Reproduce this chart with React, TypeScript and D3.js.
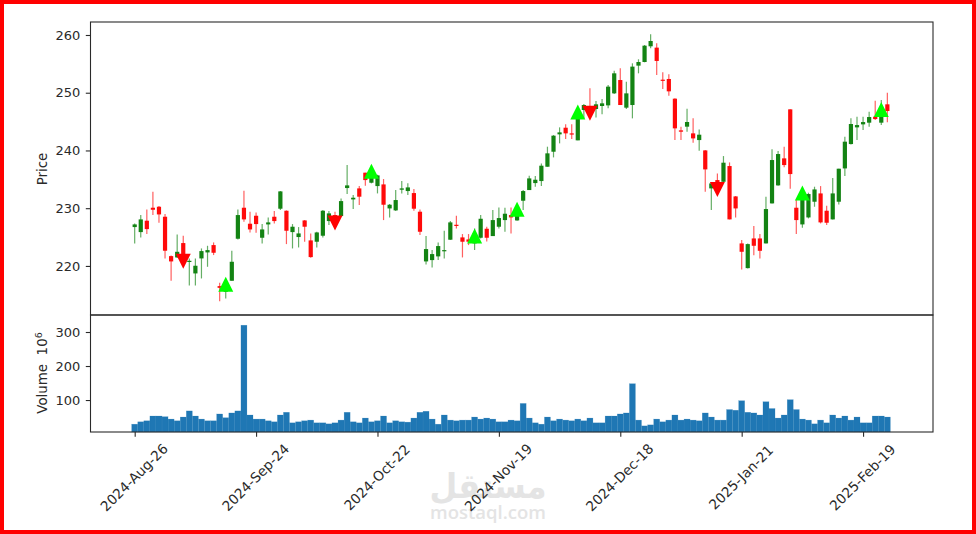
import React, { useEffect, useRef } from 'react';
import * as d3 from 'd3';

const openPrices = [
  226.73, 225.86, 227.83, 230.08, 230.25, 228.52, 221.7, 221.47, 223.96, 220.78,
  218.7, 221.3, 222.34, 223.61, 216.5, 215.52, 217.43, 224.71, 230.08, 227.31,
  228.69, 224.88, 227.19, 228.52, 229.91, 229.56, 225.86, 225.0, 227.88, 224.42,
  224.19, 225.23, 227.77, 228.81, 228.64, 233.49, 231.52, 233.43, 236.15, 234.41,
  233.83, 234.12, 229.96, 229.62, 233.2, 232.97, 232.62, 229.39, 220.78, 221.01,
  221.65, 222.57, 224.54, 227.13, 224.94, 224.59, 223.9, 224.88, 226.44, 225.17,
  226.79, 227.94, 228.81, 227.88, 231.29, 233.14, 234.35, 234.7, 237.18, 239.78,
  242.79, 243.94, 242.96, 241.75, 247.01, 247.7, 247.18, 247.7, 247.81, 249.89,
  252.2, 247.41, 247.87, 254.69, 255.32, 258.04, 257.81, 252.26, 252.38, 248.97,
  243.48, 244.12, 242.96, 241.8, 240.01, 233.43, 234.87, 234.58, 237.3, 232.04,
  223.9, 219.62, 224.76, 224.76, 223.9, 230.83, 233.95, 238.63, 247.12, 230.08,
  227.19, 228.4, 231.12, 232.56, 229.56, 228.06, 231.12, 236.89, 241.11, 244.0,
  244.52, 244.81, 245.85, 244.81, 247.99,
];

const closePrices = [
  227.19, 228.06, 226.38, 229.73, 228.92, 222.63, 220.78, 222.45, 220.72, 220.89,
  220.03, 222.57, 222.74, 222.28, 216.21, 216.39, 220.72, 228.81, 228.06, 226.32,
  227.25, 226.32, 227.54, 227.77, 232.91, 226.09, 226.79, 225.63, 226.79, 221.53,
  225.8, 229.56, 229.1, 227.36, 231.23, 233.95, 231.81, 231.99, 234.87, 236.03,
  235.68, 230.6, 230.6, 231.41, 233.43, 233.6, 229.91, 225.92, 222.92, 222.05,
  223.44, 222.74, 227.54, 226.96, 224.19, 224.19, 225.63, 228.17, 224.88, 227.94,
  228.29, 229.04, 228.4, 228.81, 232.97, 235.16, 234.93, 237.36, 239.5, 242.56,
  243.13, 242.96, 242.79, 245.56, 247.87, 247.01, 247.99, 248.16, 251.05, 253.36,
  247.87, 249.89, 254.52, 255.32, 258.15, 258.96, 255.5, 252.09, 250.24, 243.83,
  243.25, 244.93, 242.09, 242.73, 236.72, 234.29, 233.14, 237.88, 228.06, 229.96,
  222.45, 223.78, 223.49, 222.62, 229.85, 238.34, 239.38, 237.47, 235.91, 227.94,
  231.98, 232.45, 233.25, 227.54, 227.48, 232.56, 236.84, 241.52, 244.58, 244.4,
  244.92, 245.79, 245.44, 247.0, 246.83,
];

const highPrices = [
  227.36, 228.81, 229.79, 232.85, 230.37, 228.98, 221.82, 225.46, 225.23, 221.3,
  221.3, 223.03, 223.49, 224.07, 217.08, 217.54, 222.63, 229.79, 233.03, 229.39,
  229.27, 227.25, 228.4, 229.5, 232.97, 229.62, 227.25, 226.73, 227.94, 225.63,
  225.92, 229.68, 229.5, 229.39, 231.7, 237.47, 232.27, 233.83, 236.15, 237.47,
  235.8, 235.05, 230.71, 233.14, 234.7, 234.3, 233.31, 229.79, 225.17, 222.74,
  224.07, 226.09, 227.77, 228.69, 225.52, 225.52, 226.5, 228.81, 226.79, 229.68,
  230.14, 230.08, 230.14, 229.67, 233.14, 235.62, 235.57, 237.76, 240.65, 242.67,
  244.0, 244.52, 244.52, 246.43, 248.04, 250.76, 248.56, 248.91, 251.34, 253.82,
  254.23, 251.92, 255.09, 255.79, 258.27, 260.12, 258.56, 253.53, 253.19, 249.03,
  244.12, 247.24, 245.56, 243.65, 240.07, 234.41, 236.03, 239.03, 237.93, 232.1,
  224.47, 223.9, 226.9, 225.51, 231.98, 240.19, 239.9, 240.65, 247.12, 231.41,
  232.56, 232.68, 233.72, 233.83, 230.42, 235.22, 236.84, 242.38, 245.56, 245.85,
  245.85, 246.72, 248.62, 248.74, 250.01,
];

const lowPrices = [
  223.9, 224.94, 225.52, 228.81, 227.48, 221.3, 217.43, 221.41, 220.43, 216.62,
  216.62, 217.83, 219.85, 221.88, 213.9, 214.37, 217.43, 224.59, 227.65, 225.8,
  225.75, 223.9, 225.46, 227.36, 229.68, 223.78, 223.03, 223.2, 224.19, 221.41,
  223.2, 224.94, 227.08, 226.5, 228.52, 232.45, 229.85, 230.54, 233.89, 234.3,
  232.56, 227.94, 228.4, 229.5, 232.56, 232.27, 229.56, 225.34, 220.26, 219.74,
  221.01, 221.3, 224.48, 226.5, 221.47, 223.61, 222.74, 224.76, 224.24, 225.17,
  226.5, 225.92, 225.63, 227.82, 229.67, 233.14, 233.72, 233.83, 237.18, 238.8,
  241.23, 241.98, 241.98, 241.75, 245.56, 245.85, 245.73, 246.25, 247.29, 249.78,
  247.87, 247.18, 245.56, 253.36, 255.27, 257.69, 253.07, 250.64, 249.49, 241.81,
  241.81, 243.25, 241.34, 239.96, 232.85, 229.67, 232.56, 234.47, 228.06, 228.4,
  219.39, 219.56, 221.87, 221.3, 223.9, 230.83, 233.89, 237.07, 233.37, 225.51,
  226.61, 228.23, 230.25, 227.36, 227.07, 228.06, 230.65, 235.57, 241.05, 241.8,
  243.54, 244.12, 245.27, 244.4, 244.87,
];

const volumes = [
  29, 36, 39, 53, 53, 51, 44, 39, 50, 68,
  53, 44, 39, 39, 59, 48, 62, 68, 320, 56,
  44, 44, 39, 36, 56, 64, 33, 36, 39, 41,
  33, 33, 30, 33, 41, 64, 36, 33, 47, 36,
  39, 53, 33, 39, 36, 35, 47, 64, 67, 44,
  29, 56, 41, 39, 41, 41, 50, 44, 47, 44,
  36, 36, 41, 39, 90, 47, 33, 29, 50, 39,
  44, 41, 39, 44, 39, 47, 33, 33, 53, 53,
  59, 62, 148, 41, 24, 27, 44, 36, 41, 56,
  41, 44, 41, 39, 62, 50, 41, 41, 72, 70,
  98, 64, 62, 56, 95, 75, 47, 56, 101, 72,
  44, 41, 30, 41, 33, 56, 47, 53, 41, 50,
  33, 33, 53, 53, 50,
];

const buyIndex = [15, 39, 56, 63, 73, 110, 123];
const buyPrice = [216.82, 236.38, 225.2, 229.82, 246.66, 232.65, 247.09];
const sellIndex = [8, 33, 75, 96];
const sellPrice = [220.81, 227.45, 246.43, 233.23];

const tickIndex = [0, 20, 40, 60, 80, 100, 120];
const tickLabels = [
  '2024-Aug-26', '2024-Sep-24', '2024-Oct-22', '2024-Nov-19',
  '2024-Dec-18', '2025-Jan-21', '2025-Feb-19',
];
const priceTicks = [220, 230, 240, 250, 260];
const volumeTicks = [100, 200, 300];

const WIDTH = 976;
const HEIGHT = 534;
const FONT = '"DejaVu Sans", sans-serif';
const GREEN = '#138313';
const RED = '#ff0a0a';
const INK = '#2a2a2a';

// matplotlib's ^ and v markers are as tall as they are wide, unlike d3.symbolTriangle
const markerShape = (dir: number) => ({
  draw(ctx: any, size: number) {
    const r = Math.sqrt(size) / 2;
    ctx.moveTo(0, -dir * r);
    ctx.lineTo(r, dir * r);
    ctx.lineTo(-r, dir * r);
    ctx.closePath();
  },
});

const App: React.FC = () => {
  const svgRef = useRef<SVGSVGElement | null>(null);

  useEffect(() => {
    const svg = d3.select(svgRef.current);
    svg.selectAll('*').remove();

    const left = 90.5;
    const right = 933;
    const top = 22;
    const split = 315;
    const bottom = 432;

    const x = d3.scaleLinear().domain([-7.28, 131.52]).range([left, right]);
    const yPrice = d3.scaleLinear().domain([211.5, 262.25]).range([split, top]);
    const yVolume = d3.scaleLinear().domain([6, 350]).range([bottom, split]);

    svg.append('rect').attr('width', WIDTH).attr('height', HEIGHT).attr('fill', '#fff');

    // Watermark.
    const mark = svg.append('g').attr('fill', '#e4e4e4').attr('text-anchor', 'middle');
    mark.append('text')
      .attr('x', 488)
      .attr('y', 498)
      .attr('font-family', FONT)
      .attr('font-weight', 'bold')
      .attr('font-size', 34)
      .attr('textLength', 117)
      .attr('lengthAdjust', 'spacingAndGlyphs')
      .text('مستقل');
    mark.append('text')
      .attr('x', 488)
      .attr('y', 519)
      .attr('font-family', '"Open Sans", sans-serif')
      .attr('font-weight', 600)
      .attr('font-size', 18.5)
      .text('mostaql.com');

    // Wicks.
    const candles = svg.append('g');
    candles.selectAll('line')
      .data(openPrices)
      .enter()
      .append('line')
      .attr('x1', (d, i) => x(i))
      .attr('x2', (d, i) => x(i))
      .attr('y1', (d, i) => yPrice(highPrices[i]))
      .attr('y2', (d, i) => yPrice(lowPrices[i]))
      .attr('stroke', (d, i) => (closePrices[i] >= d ? GREEN : RED))
      .attr('stroke-opacity', 0.65)
      .attr('stroke-width', 1.2);

    // Bodies.
    candles.selectAll('rect')
      .data(openPrices)
      .enter()
      .append('rect')
      .attr('x', (d, i) => x(i) - 2.1)
      .attr('width', 4.2)
      .attr('y', (d, i) => yPrice(Math.max(d, closePrices[i])))
      .attr('height', (d, i) => Math.max(1.2, Math.abs(yPrice(d) - yPrice(closePrices[i]))))
      .attr('fill', (d, i) => (closePrices[i] >= d ? GREEN : RED));

    // Buy and sell signals.
    const markerPath = (dir: number) => d3.symbol().type(markerShape(dir) as any).size(225)() as string;
    svg.append('g')
      .selectAll('path')
      .data(buyIndex)
      .enter()
      .append('path')
      .attr('d', markerPath(1))
      .attr('transform', (d, i) => `translate(${x(d)},${yPrice(buyPrice[i])})`)
      .attr('fill', '#00ff00');
    svg.append('g')
      .selectAll('path')
      .data(sellIndex)
      .enter()
      .append('path')
      .attr('d', markerPath(-1))
      .attr('transform', (d, i) => `translate(${x(d)},${yPrice(sellPrice[i])})`)
      .attr('fill', '#ff0000');

    // Volume bars.
    svg.append('g')
      .selectAll('rect')
      .data(volumes)
      .enter()
      .append('rect')
      .attr('x', (d, i) => x(i) - 3)
      .attr('width', 6)
      .attr('y', d => yVolume(d))
      .attr('height', d => bottom - yVolume(d))
      .attr('fill', '#1f77b4')
      .attr('stroke', '#1f77b4')
      .attr('stroke-opacity', 0.35)
      .attr('stroke-width', 0.5);

    // Panel frames.
    svg.append('rect')
      .attr('x', left).attr('y', top)
      .attr('width', right - left).attr('height', split - top)
      .attr('fill', 'none').attr('stroke', INK).attr('stroke-width', 1.1);
    svg.append('rect')
      .attr('x', left).attr('y', split)
      .attr('width', right - left).attr('height', bottom - split)
      .attr('fill', 'none').attr('stroke', INK).attr('stroke-width', 1.1);

    // Axes.
    const styleAxis = (g: any) => {
      g.select('.domain').remove();
      g.selectAll('line').attr('stroke', INK).attr('stroke-width', 1.1);
      g.selectAll('text').attr('font-family', FONT).attr('font-size', 13).attr('fill', INK);
    };

    svg.append('g')
      .attr('transform', `translate(${left},0)`)
      .call(d3.axisLeft(yPrice).tickValues(priceTicks).tickSize(4.7).tickPadding(5.5))
      .call(styleAxis);

    svg.append('g')
      .attr('transform', `translate(${left},0)`)
      .call(d3.axisLeft(yVolume).tickValues(volumeTicks).tickSize(4.7).tickPadding(5.5))
      .call(styleAxis);

    const xAxis = svg.append('g')
      .attr('transform', `translate(0,${bottom})`)
      .call(
        d3.axisBottom(x)
          .tickValues(tickIndex)
          .tickSize(4.7)
          .tickFormat((d, i) => tickLabels[i]),
      )
      .call(styleAxis);
    xAxis.selectAll('text')
      .attr('text-anchor', 'middle')
      .attr('dy', '0.35em')
      .attr('y', 0)
      .attr('font-size', 13.7)
      .attr('transform', 'translate(-1,45.5) rotate(-45)');

    // Axis titles.
    svg.append('text')
      .attr('transform', 'translate(46.5,169) rotate(-90)')
      .attr('text-anchor', 'middle')
      .attr('font-family', FONT)
      .attr('font-size', 13.4)
      .attr('fill', INK)
      .text('Price');
    const volumeTitle = svg.append('text')
      .attr('transform', 'translate(46.5,373) rotate(-90)')
      .attr('text-anchor', 'middle')
      .attr('font-family', FONT)
      .attr('font-size', 13.4)
      .attr('fill', INK)
      .style('white-space', 'pre');
    volumeTitle.append('tspan').text('Volume  10');
    volumeTitle.append('tspan').attr('font-size', 9.5).attr('dy', -5).text('6');

    // Red outer border.
    svg.append('rect')
      .attr('x', 2).attr('y', 2)
      .attr('width', WIDTH - 4).attr('height', HEIGHT - 4)
      .attr('fill', 'none').attr('stroke', '#ff0000').attr('stroke-width', 4);
  }, []);

  return (
    <svg
      ref={svgRef}
      width={WIDTH}
      height={HEIGHT}
      style={{ position: 'absolute', left: 0, top: 0, display: 'block' }}
    ></svg>
  );
};

export default App;
